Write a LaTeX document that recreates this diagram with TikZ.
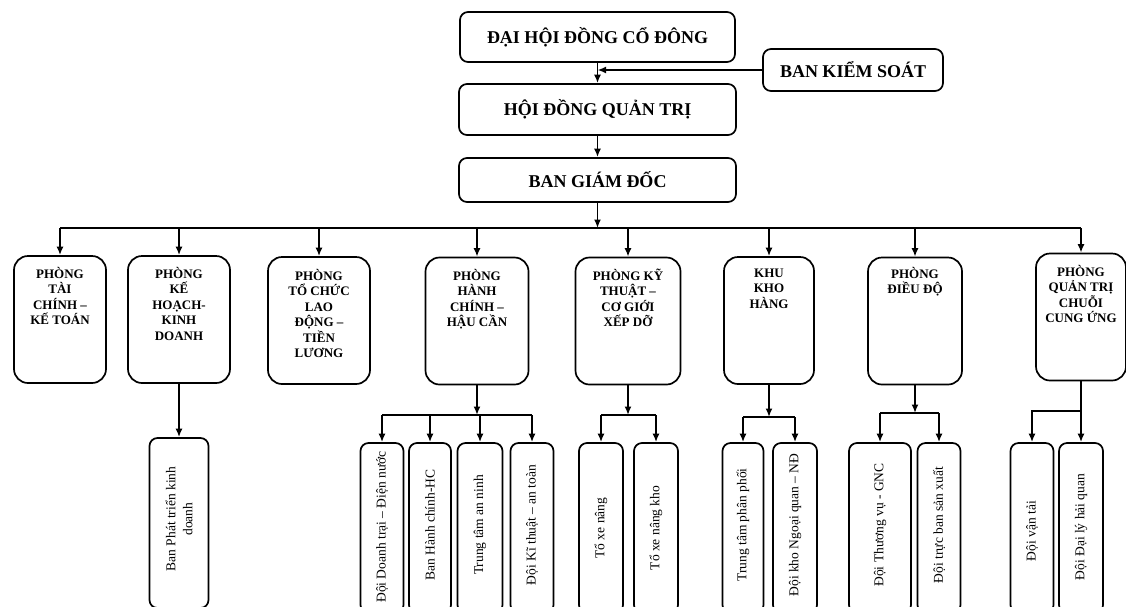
\documentclass[tikz,border=0pt]{standalone}
\usepackage{fontspec}
\setmainfont{Liberation Serif}
\usetikzlibrary{arrows.meta}
\begin{document}
\begin{tikzpicture}[x=1pt, y=-1pt, line width=1.7pt, >={Latex[length=8.5pt,width=7pt]}]
  \tikzstyle{board}=[draw, rounded corners=8pt, inner sep=0pt, font=\fontsize{18}{20}\selectfont\bfseries]
  \tikzstyle{dept}=[draw, rounded corners=14pt, minimum height=127pt, inner sep=0pt]
  \tikzstyle{deptlabel}=[anchor=north, align=center, inner sep=0pt, font=\fontsize{13}{15.5}\selectfont\bfseries]
  \tikzstyle{unit}=[draw, rounded corners=8pt, minimum height=170pt, inner sep=0pt]
  \tikzstyle{unitlabel}=[rotate=90, align=center, inner sep=0pt, font=\fontsize{13.5}{17}\selectfont]
  \useasboundingbox (0,0) rectangle (1126,606);
  \clip (0,0) rectangle (1126,606);

  \node[board, minimum width=275pt, minimum height=50pt] (dhcd) at (597.5, 37) {ĐẠI HỘI ĐỒNG CỔ ĐÔNG};
  \node[board, minimum width=180pt, minimum height=42pt] (bks) at (853, 70) {BAN KIỂM SOÁT};
  \node[board, minimum width=277pt, minimum height=51pt] (hdqt) at (597.5, 109.5) {HỘI ĐỒNG QUẢN TRỊ};
  \node[board, minimum width=277pt, minimum height=44pt] (bgd) at (597.5, 180) {BAN GIÁM ĐỐC};
  \draw[->] (dhcd) -- (hdqt);
  \draw[->] (bks.west) -- (bks.west -| dhcd.south);
  \draw[->] (hdqt) -- (bgd);

  \coordinate (bus) at (597.5, 228);
  \draw[->] (bgd.south) -- (bus);

  \node[dept, minimum width=92pt] (b1) at (60, 319.5) {};
  \node[deptlabel] (t1) at (60, 266) {PHÒNG\\TÀI\\CHÍNH –\\KẾ TOÁN};

  \node[dept, minimum width=102pt] (b2) at (179, 319.5) {};
  \node[deptlabel] (t2) at (179, 266) {PHÒNG\\KẾ\\HOẠCH-\\KINH\\DOANH};

  \node[dept, minimum width=102pt] (b3) at (319, 320.5) {};
  \node[deptlabel] (t3) at (319, 268) {PHÒNG\\TỔ CHỨC\\LAO\\ĐỘNG –\\TIỀN\\LƯƠNG};

  \node[dept, minimum width=103pt] (b4) at (477, 321) {};
  \node[deptlabel] (t4) at (477, 268) {PHÒNG\\HÀNH\\CHÍNH –\\HẬU CẦN};

  \node[dept, minimum width=105pt] (b5) at (628, 321) {};
  \node[deptlabel] (t5) at (628, 268) {PHÒNG KỸ\\THUẬT –\\CƠ GIỚI\\XẾP DỠ};

  \node[dept, minimum width=90pt] (b6) at (769, 320.5) {};
  \node[deptlabel] (t6) at (769, 268) {KHU\\KHO\\HÀNG};

  \node[dept, minimum width=94pt] (b7) at (915, 321) {};
  \node[deptlabel] (t7) at (915, 266) {PHÒNG\\ĐIỀU ĐỘ};

  \node[dept, minimum width=90pt] (b8) at (1081, 317) {};
  \node[deptlabel] (t8) at (1081, 264) {PHÒNG\\QUẢN TRỊ\\CHUỖI\\CUNG ỨNG};

  \draw (b1.north |- bus) -- (b8.north |- bus);
  \draw[->] (b1.north |- bus) -- (b1.north);
  \draw[->] (b2.north |- bus) -- (b2.north);
  \draw[->] (b3.north |- bus) -- (b3.north);
  \draw[->] (b4.north |- bus) -- (b4.north);
  \draw[->] (b5.north |- bus) -- (b5.north);
  \draw[->] (b6.north |- bus) -- (b6.north);
  \draw[->] (b7.north |- bus) -- (b7.north);
  \draw[->] (b8.north |- bus) -- (b8.north);

  \node[unit, minimum width=59pt] (c21) at (179, 523) {};
  \node[unitlabel] (l21) at (179, 519) {Ban Phát triển kinh\\doanh};
  \draw[->] (b2.south) -- (c21.north);

  \node[unit, minimum width=43pt] (c41) at (382, 528) {};
  \node[unitlabel] (l41) at (382, 527) {Đội Doanh trại – Điện nước};
  \node[unit, minimum width=42pt] (c42) at (430, 528) {};
  \node[unitlabel] (l42) at (430, 525) {Ban Hành chính-HC};
  \node[unit, minimum width=45pt] (c43) at (480, 528) {};
  \node[unitlabel] (l43) at (480, 525) {Trung tâm an ninh};
  \node[unit, minimum width=43pt] (c44) at (532, 528) {};
  \node[unitlabel] (l44) at (532, 525) {Đội Kĩ thuật – an toàn};
  \coordinate (j4) at (477, 415);
  \draw[->] (b4.south) -- (j4);
  \draw (c41.north |- j4) -- (c44.north |- j4);
  \draw[->] (c41.north |- j4) -- (c41.north);
  \draw[->] (c42.north |- j4) -- (c42.north);
  \draw[->] (c43.north |- j4) -- (c43.north);
  \draw[->] (c44.north |- j4) -- (c44.north);

  \node[unit, minimum width=44pt] (c51) at (601, 528) {};
  \node[unitlabel] (l51) at (601, 528) {Tổ xe nâng};
  \node[unit, minimum width=44pt] (c52) at (656, 528) {};
  \node[unitlabel] (l52) at (656, 528) {Tổ xe nâng kho};
  \coordinate (j5) at (628, 415);
  \draw[->] (b5.south) -- (j5);
  \draw (c51.north |- j5) -- (c52.north |- j5);
  \draw[->] (c51.north |- j5) -- (c51.north);
  \draw[->] (c52.north |- j5) -- (c52.north);

  \node[unit, minimum width=41pt] (c61) at (743, 528) {};
  \node[unitlabel] (l61) at (743, 525) {Trung tâm phân phối};
  \node[unit, minimum width=44pt] (c62) at (795, 528) {};
  \node[unitlabel] (l62) at (795, 525) {Đội kho Ngoại quan – NĐ};
  \coordinate (j6) at (769, 417);
  \draw[->] (b6.south) -- (j6);
  \draw (c61.north |- j6) -- (c62.north |- j6);
  \draw[->] (c61.north |- j6) -- (c61.north);
  \draw[->] (c62.north |- j6) -- (c62.north);

  \node[unit, minimum width=62pt] (c71) at (880, 528) {};
  \node[unitlabel] (l71) at (880, 525) {Đội Thương vụ - GNC};
  \node[unit, minimum width=43pt] (c72) at (939, 528) {};
  \node[unitlabel] (l72) at (939, 525) {Đội trực ban sản xuất};
  \coordinate (j7) at (915, 413);
  \draw[->] (b7.south) -- (j7);
  \draw (c71.north |- j7) -- (c72.north |- j7);
  \draw[->] (c71.north |- j7) -- (c71.north);
  \draw[->] (c72.north |- j7) -- (c72.north);

  \node[unit, minimum width=43pt] (c81) at (1032, 528) {};
  \node[unitlabel] (l81) at (1032, 531) {Đội vận tải};
  \node[unit, minimum width=44pt] (c82) at (1081, 528) {};
  \node[unitlabel] (l82) at (1081, 527) {Đội Đại lý hải quan};
  \coordinate (j8) at (1081, 411);
  \draw[->] (b8.south) -- (c82.north);
  \draw[->] (j8) -| (c81.north);
\end{tikzpicture}
\end{document}
